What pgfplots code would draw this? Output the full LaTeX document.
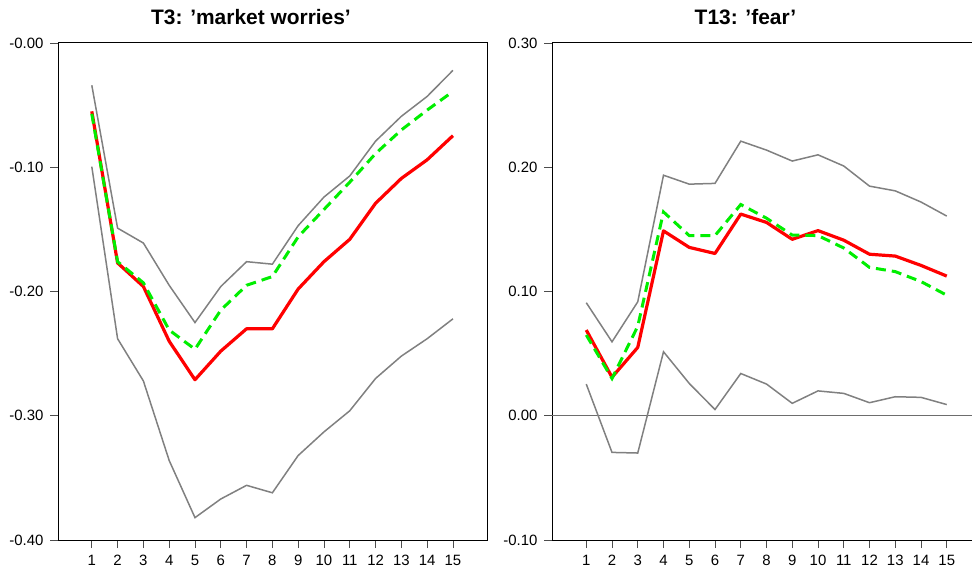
\documentclass[border=0pt]{standalone}
\usepackage{pgfplots}
\usepackage{pgfplotstable}
\pgfplotsset{compat=1.18}
\usepackage{fontspec}
\setmainfont{Liberation Sans}
\definecolor{bandgray}{RGB}{128,128,128}
\definecolor{irfred}{RGB}{255,0,0}
\definecolor{altgreen}{RGB}{0,238,0}

\pgfplotstableread{
x up lo irf alt
1 -0.034 -0.0995 -0.055 -0.057
2 -0.149 -0.238 -0.177 -0.176
3 -0.161 -0.272 -0.196 -0.193
4 -0.195 -0.336 -0.240 -0.231
5 -0.225 -0.382 -0.271 -0.2465
6 -0.196 -0.367 -0.248 -0.215
7 -0.176 -0.356 -0.230 -0.195
8 -0.178 -0.362 -0.230 -0.188
9 -0.147 -0.332 -0.198 -0.156
10 -0.124 -0.313 -0.176 -0.134
11 -0.107 -0.296 -0.158 -0.112
12 -0.079 -0.270 -0.129 -0.089
13 -0.059 -0.252 -0.109 -0.070
14 -0.043 -0.238 -0.094 -0.054
15 -0.022 -0.222 -0.0746 -0.039
}\leftdata

\pgfplotstableread{
x up lo irf alt
1 0.091 0.0255 0.069 0.065
2 0.0595 -0.0295 0.031 0.030
3 0.0917 -0.030 0.055 0.072
4 0.1936 0.0515 0.1488 0.164
5 0.1864 0.026 0.1355 0.145
6 0.187 0.005 0.1306 0.145
7 0.221 0.034 0.1623 0.170
8 0.2138 0.0255 0.1556 0.159
9 0.205 0.010 0.142 0.1454
10 0.210 0.020 0.149 0.145
11 0.201 0.018 0.1413 0.135
12 0.1848 0.0105 0.130 0.1194
13 0.181 0.0153 0.1285 0.116
14 0.172 0.0148 0.121 0.108
15 0.1607 0.009 0.1124 0.097
}\rightdata

\pgfplotsset{
  panel/.style={
    scale only axis,
    anchor=south west,
    width=429bp, height=497bp,
    xtick={1,...,15},
    xticklabels={1,2,3,4,5,6,7,8,9,10,11,12,13,14,15},
    tick align=outside,
    xtick pos=lower, ytick pos=left,
    major tick length=8bp,
    tick style={bandgray!60!black, line width=0.9bp},
    axis line style={black, line width=1bp},
    ticklabel style={font=\fontsize{15}{18}\selectfont},
    xticklabel style={yshift=-4bp},
    yticklabel style={xshift=-3bp},
    /pgf/number format/assume math mode=true,
    clip=true,
  },
  band/.style={bandgray, line width=1.5bp},
  irf/.style={irfred, line width=3.2bp, line join=round},
  alt/.style={altgreen, line width=3bp, dash pattern=on 10bp off 6bp},
}

\begin{document}
\begin{tikzpicture}
\begin{axis}[panel, at={(58bp,36bp)},
  xmin=-0.31, xmax=16.32, ymin=-0.4, ymax=0,
  ytick={-0.4,-0.3,-0.2,-0.1,0},
  yticklabels={-0.40,-0.30,-0.20,-0.10,-0.00}]
\addplot[band] table[x=x,y=up] {\leftdata};
\addplot[band] table[x=x,y=lo] {\leftdata};
\addplot[irf] table[x=x,y=irf] {\leftdata};
\addplot[alt] table[x=x,y=alt] {\leftdata};
\end{axis}
\begin{axis}[panel, at={(552bp,36bp)},
  xmin=-0.33, xmax=16.33, ymin=-0.1, ymax=0.3,
  ytick={-0.1,0,0.1,0.2,0.3},
  yticklabels={-0.10,0.00,0.10,0.20,0.30}]
\addplot[bandgray!85!black, line width=1.5bp] coordinates {(-0.33,0) (16.33,0)};
\addplot[band] table[x=x,y=up] {\rightdata};
\addplot[band] table[x=x,y=lo] {\rightdata};
\addplot[irf] table[x=x,y=irf] {\rightdata};
\addplot[alt] table[x=x,y=alt] {\rightdata};
\end{axis}
\node[font=\fontsize{21}{24}\selectfont\bfseries, anchor=base] at (251bp,551bp) {T3: 'market worries'};
\node[font=\fontsize{21}{24}\selectfont\bfseries, anchor=base] at (745.5bp,551bp) {T13: 'fear'};
\pgfresetboundingbox
\path[use as bounding box] (0,0) rectangle (972bp,576bp);
\end{tikzpicture}
\end{document}
